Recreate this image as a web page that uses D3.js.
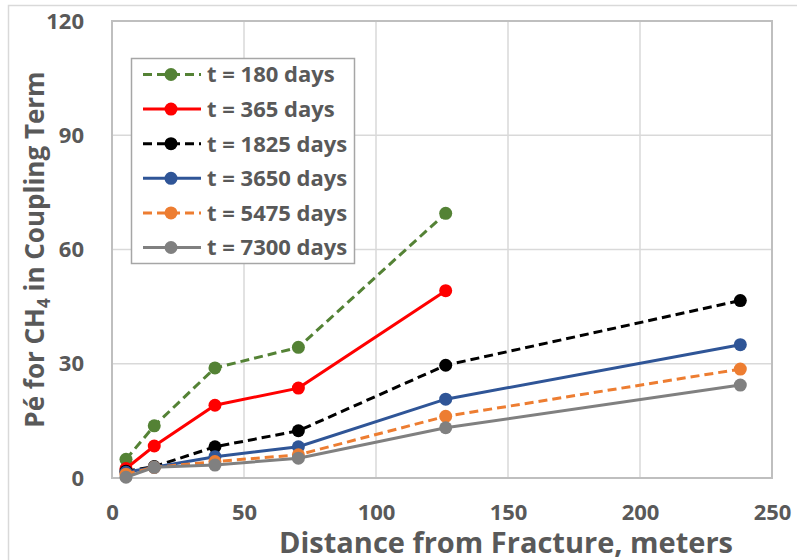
<!DOCTYPE html>
<html lang="en">
<head>
    <meta charset="UTF-8">
    <title>Pe for CH4 in Coupling Term</title>
    <style>
        body {
            margin: 0;
            background-color: #FFFFFF;
        }
        svg text {
            font-family: "Open Sans", Arial, sans-serif;
            font-weight: bold;
            fill: #595959;
        }
    </style>
</head>
<body>
    <div id="chart"></div>

    <script src="https://d3js.org/d3.v7.min.js"></script>
    <script>
        // Data
        const distance = [5.3, 16, 39, 70.6, 126.4, 238];

        const pe180 = [4.9, 13.7, 28.9, 34.3, 69.5];
        const pe365 = [2.5, 8.4, 19.1, 23.6, 49.2];
        const pe1825 = [1.8, 3.0, 8.2, 12.4, 29.6, 46.6];
        const pe3650 = [1.5, 2.8, 5.6, 8.2, 20.7, 35.0];
        const pe5475 = [1.0, 2.8, 4.3, 6.1, 16.2, 28.6];
        const pe7300 = [0.2, 2.8, 3.4, 5.2, 13.2, 24.4];

        const seriesNames = ["t = 180 days", "t = 365 days", "t = 1825 days",
                             "t = 3650 days", "t = 5475 days", "t = 7300 days"];
        const seriesValues = [pe180, pe365, pe1825, pe3650, pe5475, pe7300];
        const seriesColors = ["#548235", "#FF0000", "#000000", "#2F5597", "#ED7D31", "#808080"];
        const seriesDashed = [true, false, true, false, true, false];

        const xTicks = [0, 50, 100, 150, 200, 250];
        const yTicks = [0, 30, 60, 90, 120];

        const width = 797;
        const height = 560;
        const margin = {left: 112, right: 25, top: 21, bottom: 82};

        const svg = d3.select("#chart")
            .append("svg")
            .attr("width", width)
            .attr("height", height);

        // outer chart frame (only top and left edges show)
        svg.append("path")
            .attr("d", `M8.5,${height + 5} L8.5,5.5 L${width + 5},5.5`)
            .attr("fill", "none")
            .attr("stroke", "#D9D9D9")
            .attr("stroke-width", 1.5);

        const x = d3.scaleLinear()
            .domain([0, 250])
            .range([margin.left, width - margin.right]);

        const y = d3.scaleLinear()
            .domain([0, 120])
            .range([height - margin.bottom, margin.top]);

        // gridlines
        svg.append("g")
            .selectAll("line.vgrid")
            .data(xTicks)
            .join("line")
            .attr("x1", d => x(d))
            .attr("x2", d => x(d))
            .attr("y1", y(0))
            .attr("y2", y(120))
            .attr("stroke", "#D9D9D9")
            .attr("stroke-width", 1.5);

        svg.append("g")
            .selectAll("line.hgrid")
            .data(yTicks)
            .join("line")
            .attr("x1", x(0))
            .attr("x2", x(250))
            .attr("y1", d => y(d))
            .attr("y2", d => y(d))
            .attr("stroke", "#D9D9D9")
            .attr("stroke-width", 1.5);

        // plot frame
        svg.append("rect")
            .attr("x", x(0))
            .attr("y", y(120))
            .attr("width", x(250) - x(0))
            .attr("height", y(0) - y(120))
            .attr("fill", "none")
            .attr("stroke", "#BFBFBF")
            .attr("stroke-width", 2);

        // axes with d3 axis generators, then restyle
        const xAxis = svg.append("g")
            .attr("transform", `translate(0,${y(0)})`)
            .call(d3.axisBottom(x).tickValues(xTicks).tickSize(0).tickPadding(26));
        xAxis.select(".domain").remove();
        xAxis.selectAll("text")
            .attr("font-size", "22px")
            .attr("font-family", null)
            .attr("fill", null);

        const yAxis = svg.append("g")
            .attr("transform", `translate(${x(0)},0)`)
            .call(d3.axisLeft(y).tickValues(yTicks).tickSize(0).tickPadding(28));
        yAxis.select(".domain").remove();
        yAxis.selectAll("text")
            .attr("font-size", "22px")
            .attr("font-family", null)
            .attr("fill", null);

        // axis titles
        svg.append("text")
            .attr("x", 506)
            .attr("y", 553)
            .attr("text-anchor", "middle")
            .attr("font-size", "29px")
            .text("Distance from Fracture, meters");

        const yTitle = svg.append("text")
            .attr("transform", `translate(44,${(y(0) + y(120)) / 2}) rotate(-90)`)
            .attr("text-anchor", "middle")
            .attr("font-size", "26px");
        yTitle.append("tspan").text("Pé for CH");
        yTitle.append("tspan").attr("font-size", "17px").attr("dy", 6).text("4");
        yTitle.append("tspan").attr("dy", -6).text(" in Coupling Term");

        // series
        const line = d3.line()
            .x(d => x(d[0]))
            .y(d => y(d[1]));

        seriesValues.forEach((vals, i) => {
            const pts = vals.map((v, j) => [distance[j], v]);
            const g = svg.append("g");
            g.append("path")
                .datum(pts)
                .attr("d", line)
                .attr("fill", "none")
                .attr("stroke", seriesColors[i])
                .attr("stroke-width", 3)
                .attr("stroke-dasharray", seriesDashed[i] ? "9,5" : null);
            g.selectAll("circle")
                .data(pts)
                .join("circle")
                .attr("cx", d => x(d[0]))
                .attr("cy", d => y(d[1]))
                .attr("r", 6.5)
                .attr("fill", seriesColors[i]);
        });

        // legend
        const legend = svg.append("g");
        legend.append("rect")
            .attr("x", 131.5)
            .attr("y", 58.5)
            .attr("width", 223)
            .attr("height", 205)
            .attr("fill", "#FFFFFF")
            .attr("stroke", "#A6A6A6")
            .attr("stroke-width", 1.5);

        seriesNames.forEach((name, i) => {
            const cy = 74.5 + i * 34.6;
            legend.append("line")
                .attr("x1", 143)
                .attr("x2", 201)
                .attr("y1", cy)
                .attr("y2", cy)
                .attr("stroke", seriesColors[i])
                .attr("stroke-width", 3)
                .attr("stroke-dasharray", seriesDashed[i] ? "9,5" : null);
            legend.append("circle")
                .attr("cx", 171)
                .attr("cy", cy)
                .attr("r", 6.5)
                .attr("fill", seriesColors[i]);
            legend.append("text")
                .attr("x", 207)
                .attr("y", cy)
                .attr("dy", "0.36em")
                .attr("font-size", "22px")
                .text(name);
        });
    </script>
</body>
</html>
